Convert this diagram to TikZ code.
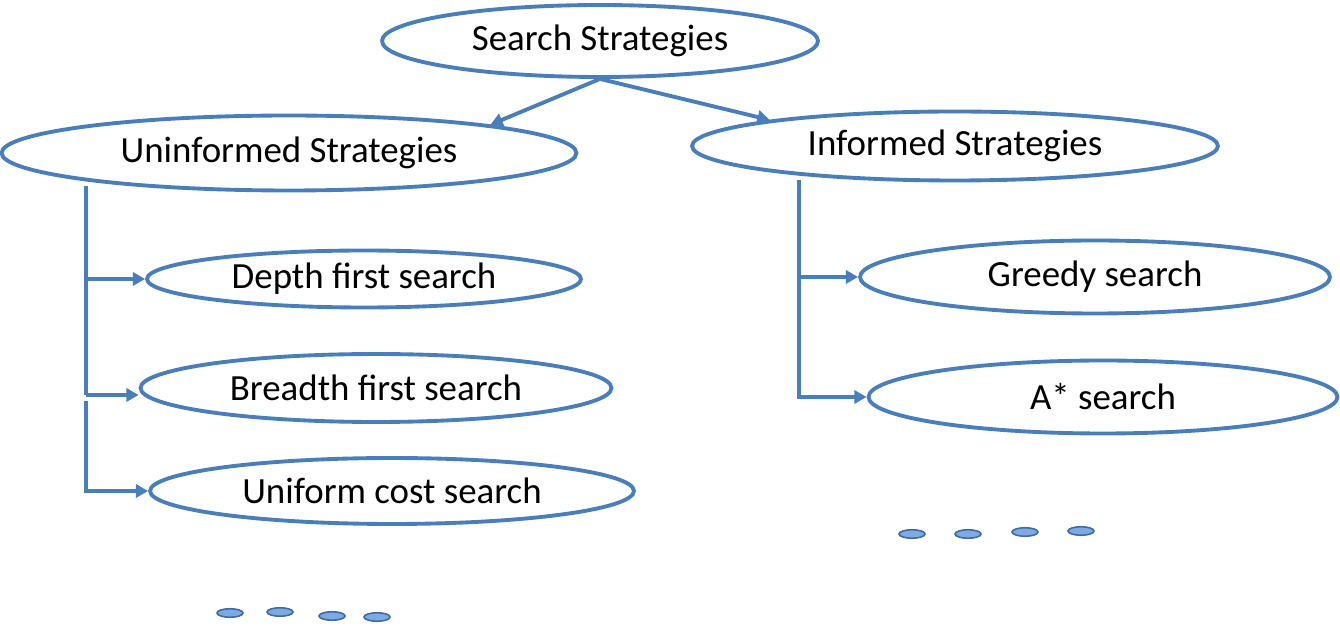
\documentclass[tikz,border=0pt]{standalone}
\usepackage{fontspec}
\setmainfont{Carlito}
\usetikzlibrary{shapes.geometric, arrows.meta}
\definecolor{azul}{RGB}{74,126,187}
\definecolor{azulclaro}{RGB}{125,170,228}

\tikzset{
  strategy/.style={ellipse, draw=azul, line width=2.2pt, inner sep=0pt, font=\fontsize{21}{25}\selectfont},
  link/.style={draw=azul, line width=2.2pt, -{Triangle[length=7pt,width=7.5pt]}},
  dot/.style={ellipse, draw=azul!85!black, fill=azulclaro, line width=0.9pt, minimum width=0.52cm, minimum height=0.17cm, inner sep=0pt}
}

\begin{document}
\begin{tikzpicture}[x=0.02cm, y=-0.02cm]
  \useasboundingbox (0,0) rectangle (1340,634);

  \node[strategy, minimum width=8.72cm, minimum height=1.44cm] (root) at (600,41) {Search Strategies};
  \node[strategy, minimum width=11.5cm, minimum height=1.5cm] (unin) at (289,153) {Uninformed Strategies};
  \node[strategy, minimum width=10.52cm, minimum height=1.38cm] (inf) at (955,146) {Informed Strategies};

  \node[strategy, minimum width=8.68cm, minimum height=1.14cm] (dfs) at (364,279) {Depth first search};
  \node[strategy, minimum width=9.42cm, minimum height=1.36cm] (bfs) at (376,388) {Breadth first search};
  \node[strategy, minimum width=9.68cm, minimum height=1.32cm] (ucs) at (392,491) {Uniform cost search};
  \node[strategy, minimum width=9.4cm, minimum height=1.46cm] (greedy) at (1095,277) {Greedy search};
  \node[strategy, minimum width=9.38cm, minimum height=1.46cm] (astar) at (1103,397) {A* search};

  \draw[link] (root.south) -- (unin.8); % hacia no informadas
  \draw[link] (root.south) -- (inf.172); % hacia informadas

  % Rama izquierda
  \coordinate (ltop) at (86,186);
  \coordinate (lmid) at (86,395);
  \coordinate (lbot) at (86,401);
  \draw[azul, line width=2.2pt] (ltop) -- (lmid);
  \draw[link] (ltop |- dfs.west) -- (dfs.west);
  \draw[link] (lmid) -- (lmid -| bfs.west);
  \draw[link] (lbot) |- (ucs.west);

  % Rama derecha
  \coordinate (rtop) at (799,180);
  \draw[link] (rtop |- greedy.west) -- (greedy.west);
  \draw[link] (rtop) |- (astar.west);

  % Puntos suspensivos
  \node[dot] (ldot1) at (230,613) {};
  \node[dot] (ldot2) at (280,612) {};
  \node[dot] (ldot3) at (332,616) {};
  \node[dot] (ldot4) at (377,617) {};
  \node[dot] (rdot1) at (912,534) {};
  \node[dot] (rdot2) at (968,534) {};
  \node[dot] (rdot3) at (1025,532) {};
  \node[dot] (rdot4) at (1081,531) {};

\end{tikzpicture}
\end{document}
